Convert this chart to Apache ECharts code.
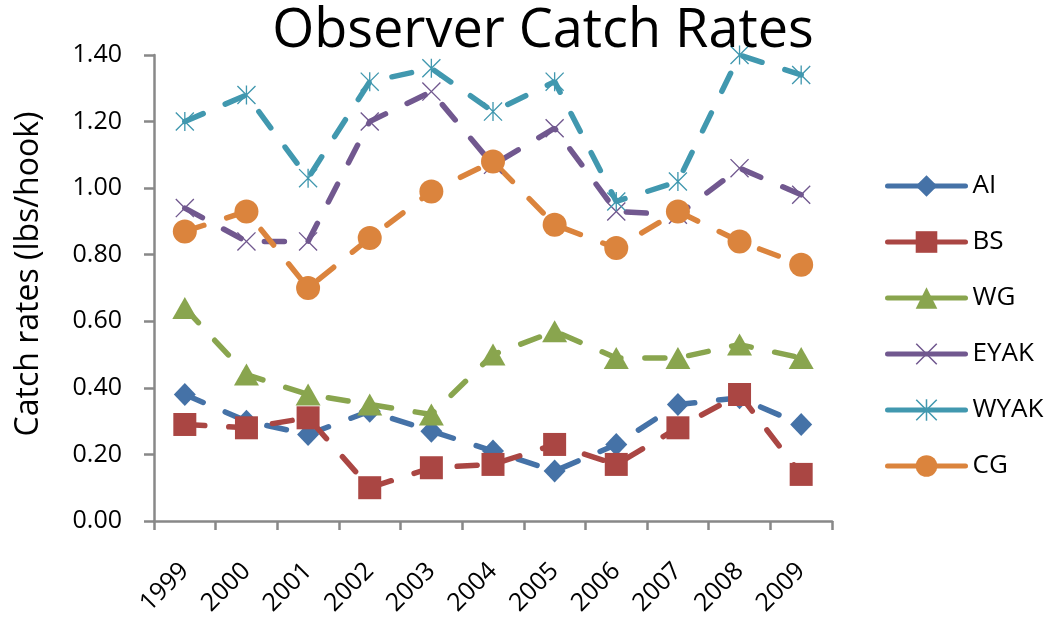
<!DOCTYPE html>
<html>
<head>
<meta charset="utf-8">
<script src="https://cdn.jsdelivr.net/npm/echarts@6/dist/echarts.min.js"></script>
<style>
  html, body { margin: 0; padding: 0; background: #fff; }
  #chart { width: 1053px; height: 621px; }
</style>
</head>
<body>
<div id="chart"></div>
<script>
// Observer catch rates by management area, 1999-2009
const years = ['1999', '2000', '2001', '2002', '2003', '2004', '2005', '2006', '2007', '2008', '2009'];
const seriesNames = ['AI', 'BS', 'WG', 'EYAK', 'WYAK', 'CG'];

const AI   = [0.38, 0.30, 0.26, 0.33, 0.27, 0.21, 0.15, 0.23, 0.35, 0.37, 0.29];
const BS   = [0.29, 0.28, 0.31, 0.10, 0.16, 0.17, 0.23, 0.17, 0.28, 0.38, 0.14];
const WG   = [0.64, 0.44, 0.38, 0.35, 0.32, 0.50, 0.57, 0.49, 0.49, 0.53, 0.49];
const EYAK = [0.94, 0.84, 0.84, 1.20, 1.29, 1.07, 1.18, 0.93, 0.92, 1.06, 0.98];
const WYAK = [1.20, 1.28, 1.03, 1.32, 1.36, 1.23, 1.32, 0.96, 1.02, 1.40, 1.34];
const CG   = [0.87, 0.93, 0.70, 0.85, 0.99, 1.08, 0.89, 0.82, 0.93, 0.84, 0.77];

const yTicks = { min: 0, max: 1.4, step: 0.2 };
const yAxisTitle = 'Catch rates (lbs/hook)';

const colors = ['#4572A7', '#AA4643', '#89A54E', '#71588F', '#4198AF', '#DB843D'];

// thin-stroke marker shapes built as filled outlines
const crossPath = 'path://M0,1 L1,0 L20,19 L19,20 Z M19,0 L20,1 L1,20 L0,19 Z';
const starPath = 'path://M0,1 L1,0 L20,19 L19,20 Z M19,0 L20,1 L1,20 L0,19 Z M9.3,0 L10.7,0 L10.7,20 L9.3,20 Z';

const markers = [
  { symbol: 'diamond', size: [22, 23] },
  { symbol: 'rect', size: 23 },
  { symbol: 'triangle', size: [25, 22] },
  { symbol: crossPath, size: 19 },
  { symbol: starPath, size: 19 },
  { symbol: 'circle', size: 24 }
];

const values = [AI, BS, WG, EYAK, WYAK, CG];

const font = '"Open Sans", Lato, sans-serif';

const chart = echarts.init(document.getElementById('chart'), null, { renderer: 'canvas' });

chart.setOption({
  animation: false,
  backgroundColor: '#ffffff',
  color: colors,
  title: {
    text: 'Observer Catch Rates',
    left: 538,
    textAlign: 'center',
    top: 0,
    textStyle: { fontFamily: font, fontSize: 54, fontWeight: 'normal', color: '#000' }
  },
  legend: {
    orient: 'vertical',
    left: 880,
    top: 168,
    itemWidth: 78,
    itemHeight: 27,
    itemGap: 30,
    data: seriesNames,
    textStyle: { fontFamily: font, fontSize: 26, color: '#000', padding: [0, 0, 0, 2] },
    lineStyle: { type: 'solid', width: 5, cap: 'round' }
  },
  grid: { left: 154, right: 221, top: 55, bottom: 100, containLabel: false },
  xAxis: {
    type: 'category',
    data: years,
    boundaryGap: true,
    axisLine: { lineStyle: { color: '#888', width: 2.5 } },
    axisTick: { show: true, length: 9, lineStyle: { color: '#888', width: 2.5 } },
    axisLabel: { rotate: 45, fontFamily: font, fontSize: 25, color: '#000', margin: 46, interval: 0 },
    splitLine: { show: false }
  },
  yAxis: {
    type: 'value',
    min: yTicks.min,
    max: yTicks.max,
    interval: yTicks.step,
    axisLine: { show: true, lineStyle: { color: '#888', width: 2.5 } },
    axisTick: { show: true, length: 10, lineStyle: { color: '#888', width: 2.5 } },
    axisLabel: { fontFamily: font, fontSize: 25, color: '#000', margin: 32, formatter: v => v.toFixed(2) },
    splitLine: { show: false }
  },
  graphic: [{
    type: 'text',
    x: 29,
    y: 274,
    rotation: Math.PI / 2,
    style: {
      text: yAxisTitle,
      fontFamily: font,
      fontSize: 32,
      fill: '#000',
      textAlign: 'center',
      textVerticalAlign: 'middle'
    }
  }],
  series: seriesNames.map((name, i) => ({
    name,
    type: 'line',
    data: values[i],
    symbol: markers[i].symbol,
    symbolSize: markers[i].size,
    showAllSymbol: true,
    lineStyle: { width: 5.5, type: [20, 24], cap: 'round', color: colors[i] },
    itemStyle: { color: colors[i] }
  }))
});
</script>
</body>
</html>
